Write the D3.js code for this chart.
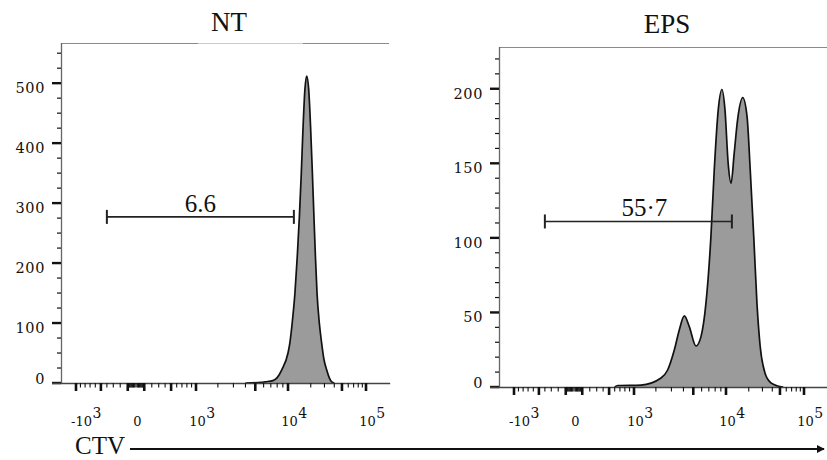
<!DOCTYPE html>
<html><head><meta charset="utf-8">
<script src="https://cdn.jsdelivr.net/npm/d3@7"></script>
<style>body{margin:0;background:#fff}svg{display:block}</style>
</head><body><svg id="c" width="827" height="460"></svg>
<script>
// ---------------- data ----------------
const panelTitles = ["NT", "EPS"];
const ntCTV   = [4000, 5700, 6200, 7300, 8000, 8800, 10000, 10600, 11500, 12400, 13300, 14200, 15000, 15800, 16800, 17700, 18800, 19900, 21000, 22000, 23000, 24100, 25800, 27600, 29500, 32000, 34500, 37100, 40000];
const ntCount = [0, 1, 2, 4, 9, 22, 50, 67, 105, 150, 210, 277, 345, 420, 490, 512, 490, 427, 350, 277, 210, 150, 100, 67, 40, 22, 9, 2, 0];
const epsCTV   = [600, 660, 1280, 2300, 2730, 3220, 3630, 4080, 4570, 5310, 5920, 6590, 7320, 7850, 8530, 9200, 9790, 10700, 11700, 12900, 14300, 16700, 19000, 20900, 23200, 25500, 28100, 32300, 38500, 46800, 55000];
const epsCount = [0, 1, 1.3, 6, 11.4, 24.8, 38.3, 47.7, 40.5, 27.5, 33.8, 56.4, 101, 145.7, 186, 199.5, 186, 150, 136.7, 157, 179.3, 194, 181.5, 145.7, 101, 56.4, 27, 9.4, 2.7, 0.7, 0];
const yDomainMax = [567, 228];
const ntYTicks = [0, 100, 200, 300, 400, 500];
const epsYTicks = [0, 50, 100, 150, 200];
const yMinorStep = [25, 10];
const gateRange = [-400, 12000];
const gateCount = [277, 111];
const gateLabels = ["6.6", "55·7"];
const xDomain = [-1400, 200000];
const xTickValues = [-1000, 0, 1000, 10000, 100000];
const xTickBases = ["-10", "0", "10", "10", "10"];
const xTickExps  = ["3", "", "3", "4", "5"];
const axisLabel = "CTV";

// ---------------- layout ----------------
const svg = d3.select("#c");
const layout = [
  {x0: 61, yBase: 383, yTop: 43, titleBase: 31},
  {x0: 499, yBase: 387, yTop: 47, titleBase: 33}
];
const plotW = 328;
const g = v => Math.sign(v) * Math.log10(1 + Math.abs(v) / 1000);

// x minor/major tick sets (biexponential style)
const xMinor = [], xMajor = [-1000, -500, -100, 100, 500, 1000, 5000, 10000, 50000, 100000];
[-900,-800,-700,-600,-400,-300,-200].forEach(v => xMinor.push(v));
for (let k = 1; k <= 9; k++) { xMinor.push(-10 * k, 10 * k); }
[200,300,400,600,700,800,900].forEach(v => xMinor.push(v));
[2000,3000,4000,6000,7000,8000,9000,20000,30000,40000,60000,70000,80000,90000].forEach(v => xMinor.push(v));

const panelData = [
  {title: panelTitles[0], ctv: ntCTV, count: ntCount, yTicks: ntYTicks},
  {title: panelTitles[1], ctv: epsCTV, count: epsCount, yTicks: epsYTicks}
];

panelData.forEach((pd, i) => {
  const L = layout[i];
  const xs = d3.scaleLinear()
    .domain([-1000, 0, 1000, 10000, 100000].map(g))
    .range([L.x0 + 15, L.x0 + 75, L.x0 + 135, L.x0 + 227, L.x0 + 305]);
  const x = v => xs(g(v));
  const y = d3.scaleLinear().domain([0, yDomainMax[i]]).range([L.yBase, L.yTop]);
  const xEnd = x(xDomain[1]);
  const gp = svg.append("g");

  // top border
  gp.append("line").attr("x1", L.x0).attr("x2", L.x0 + plotW)
    .attr("y1", y(yDomainMax[i]) + 0.5).attr("y2", y(yDomainMax[i]) + 0.5)
    .attr("stroke", "#8a8a8a").attr("stroke-width", 1.2);

  // histogram
  const pts = pd.ctv.map((c, j) => [c, pd.count[j]]);
  const area = d3.area().x(d => x(d[0])).y0(y(0)).y1(d => y(d[1])).curve(d3.curveMonotoneX);
  const line = d3.line().x(d => x(d[0])).y(d => y(d[1])).curve(d3.curveMonotoneX);
  gp.append("path").attr("d", area(pts)).attr("fill", "#9b9b9b");
  gp.append("path").attr("d", line(pts)).attr("fill", "none").attr("stroke", "#111").attr("stroke-width", 1.7);

  // y axis line
  gp.append("line").attr("x1", L.x0 + 0.5).attr("x2", L.x0 + 0.5)
    .attr("y1", y(yDomainMax[i])).attr("y2", y(0))
    .attr("stroke", "#666").attr("stroke-width", 1.3);
  // y ticks
  const step = yMinorStep[i];
  for (let v = 0; v <= yDomainMax[i]; v += step) {
    const major = pd.yTicks.includes(v);
    gp.append("line").attr("x1", L.x0 - (major ? 9 : 4)).attr("x2", L.x0)
      .attr("y1", y(v)).attr("y2", y(v))
      .attr("stroke", "#111").attr("stroke-width", major ? 2.4 : 1.2);
  }
  pd.yTicks.forEach(v => {
    gp.append("text").attr("x", L.x0 - 16).attr("y", y(v) + (v === 0 ? 1 : 10))
      .attr("text-anchor", "end").attr("font-family", "DejaVu Serif").attr("font-size", 14.5)
      .attr("letter-spacing", 0.6).attr("fill", "#111").text(v);
  });

  // x axis line
  gp.append("line").attr("x1", L.x0 - 9).attr("x2", xEnd)
    .attr("y1", y(0) + 0.5).attr("y2", y(0) + 0.5)
    .attr("stroke", "#444").attr("stroke-width", 1.5);
  xMinor.forEach(v => {
    gp.append("line").attr("x1", x(v)).attr("x2", x(v)).attr("y1", y(0)).attr("y2", y(0) + 4.5)
      .attr("stroke", "#111").attr("stroke-width", 1.1);
  });
  xMajor.forEach(v => {
    gp.append("line").attr("x1", x(v)).attr("x2", x(v)).attr("y1", y(0)).attr("y2", y(0) + 8)
      .attr("stroke", "#111").attr("stroke-width", 2.6);
  });
  // x tick labels
  const labY = 426;
  xTickValues.forEach((v, j) => {
    const tx = x(v);
    const base = xTickBases[j];
    const t = gp.append("text").attr("y", labY).attr("font-family", "DejaVu Serif")
      .attr("font-size", 13).attr("fill", "#111").text(base);
    let w = t.node().getComputedTextLength();
    let startX;
    if (base.startsWith("-")) { startX = tx - 5; }
    else { startX = tx + 1.5 - w / 2; }
    t.attr("x", startX);
    if (xTickExps[j]) {
      gp.append("text").attr("x", startX + w + 0.5).attr("y", labY - 8)
        .attr("font-family", "DejaVu Serif").attr("font-size", 14).attr("fill", "#111")
        .text(xTickExps[j]);
    }
  });

  // title
  if (i === 0) {
    gp.append("rect").attr("x", L.x0 + 137).attr("y", 0).attr("width", 105).attr("height", y(yDomainMax[i]) + 2)
      .attr("fill", "#fff").attr("opacity", 0.55);
  }
  gp.append("text").attr("x", L.x0 + 168).attr("y", L.titleBase).attr("text-anchor", "middle")
    .attr("font-family", "Liberation Serif").attr("font-size", 27).attr("fill", "#111").text(pd.title);

  // gate
  const gx1 = x(gateRange[0]), gx2 = x(gateRange[1]), gy = y(gateCount[i]);
  gp.append("line").attr("x1", gx1).attr("x2", gx2).attr("y1", gy).attr("y2", gy)
    .attr("stroke", "#222").attr("stroke-width", 1.6);
  [gx1, gx2].forEach(gxx => gp.append("line").attr("x1", gxx).attr("x2", gxx)
    .attr("y1", gy - 7).attr("y2", gy + 7).attr("stroke", "#222").attr("stroke-width", 2));
  gp.append("text").attr("x", (gx1 + gx2) / 2 + (i === 0 ? 0 : 6)).attr("y", gy - 5)
    .attr("text-anchor", "middle").attr("font-family", "Liberation Serif").attr("font-size", 25)
    .attr("fill", "#111").text(gateLabels[i]);
});

// CTV axis label with arrow
svg.append("defs").append("marker").attr("id", "arr").attr("viewBox", "0 0 10 10")
  .attr("refX", 9).attr("refY", 5).attr("markerWidth", 4).attr("markerHeight", 4).attr("orient", "auto")
  .append("path").attr("d", "M0,0L10,5L0,10z").attr("fill", "#111");
svg.append("text").attr("x", 75).attr("y", 454).attr("font-family", "Liberation Serif")
  .attr("font-size", 25).attr("fill", "#111").text(axisLabel);
svg.append("line").attr("x1", 130).attr("x2", 824).attr("y1", 449).attr("y2", 449)
  .attr("stroke", "#111").attr("stroke-width", 2).attr("marker-end", "url(#arr)");
</script></body></html>
